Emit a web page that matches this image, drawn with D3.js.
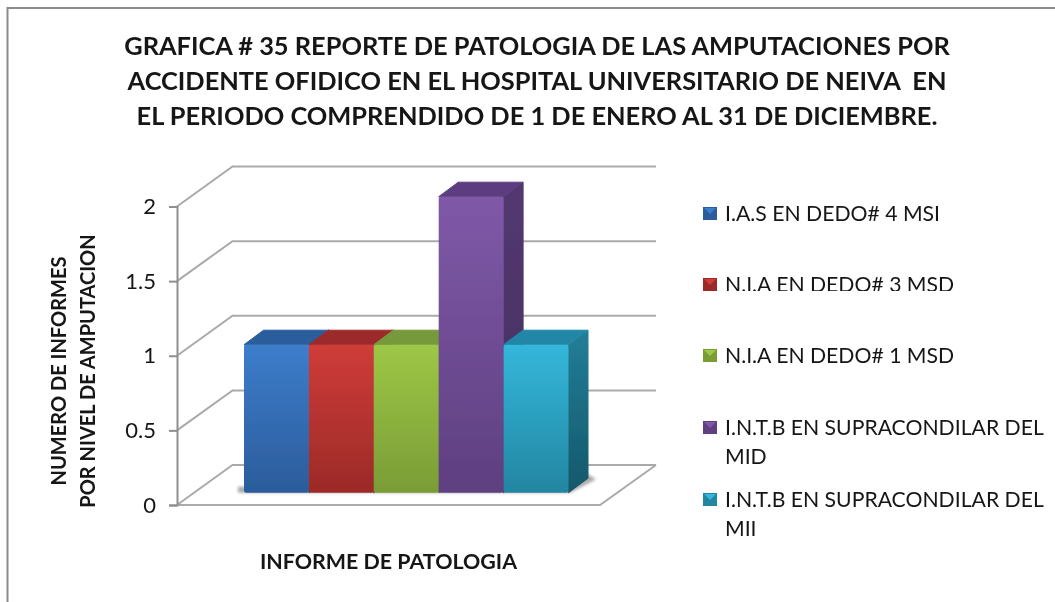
<!DOCTYPE html>
<html><head><meta charset="utf-8">
<script src="https://cdn.jsdelivr.net/npm/d3@7"></script>
<style>html,body{margin:0;padding:0;background:#fff}svg{display:block}text{font-family:Lato,Carlito,sans-serif;fill:#161616}</style>
</head><body><div id="c"></div>
<script>
const categories=["I.A.S EN DEDO# 4 MSI","N.I.A EN DEDO# 3 MSD","N.I.A EN DEDO# 1 MSD","I.N.T.B EN SUPRACONDILAR DEL MID","I.N.T.B EN SUPRACONDILAR DEL MII"];
const values=[1,1,1,2,1];
const tickValues=[0,0.5,1,1.5,2];
const frontColors=[["#3d7dcb","#2b5c9b"],["#cf3c39","#9b2a27"],["#9dc746","#7a9c36"],["#7f59a8","#5e3f80"],["#34b7da","#2386a2"]];
const topColors=["#2a5d9b","#9c2c2b","#76993a","#5d3e80","#2187a6"];
const sideColors=[["#2a5d9b","#1d406c"],["#9c2c2b","#6c1d1c"],["#76993a","#506a25"],["#533870","#45305f"],["#227e98","#14586a"]];
const titleLines=["GRAFICA # 35 REPORTE DE PATOLOGIA DE LAS AMPUTACIONES POR","ACCIDENTE OFIDICO EN EL HOSPITAL UNIVERSITARIO DE NEIVA  EN","EL PERIODO COMPRENDIDO DE 1 DE ENERO AL 31 DE DICIEMBRE."];
const yTitleLines=["NUMERO DE INFORMES","POR NIVEL DE AMPUTACION"];
const xTitle="INFORME DE PATOLOGIA";
const legendLines=[["I.A.S EN DEDO# 4 MSI"],["N.I.A EN DEDO# 3 MSD"],["N.I.A EN DEDO# 1 MSD"],["I.N.T.B EN SUPRACONDILAR DEL","MID"],["I.N.T.B EN SUPRACONDILAR DEL","MII"]];

const W=1055,H=602;
const svg=d3.select("#c").append("svg").attr("width",W).attr("height",H);
const defs=svg.append("defs");
defs.append("filter").attr("id","soft").attr("x","-5%").attr("y","-5%").attr("width","110%").attr("height","110%")
  .append("feGaussianBlur").attr("stdDeviation",0.7);
defs.append("filter").attr("id","shadow").attr("x","-20%").attr("y","-200%").attr("width","140%").attr("height","500%")
  .append("feGaussianBlur").attr("stdDeviation",1.8);
function grad(id,a,b){const g=defs.append("linearGradient").attr("id",id).attr("x1",0).attr("y1",0).attr("x2",0).attr("y2",1);
  g.append("stop").attr("offset",0).attr("stop-color",a);g.append("stop").attr("offset",1).attr("stop-color",b);}
frontColors.forEach((c,i)=>grad("f"+i,c[0],c[1]));
sideColors.forEach((c,i)=>grad("s"+i,c[0],c[1]));

const root=svg.append("g").attr("filter","url(#soft)");
root.append("path").attr("d",`M7.5,${H}V8H${W}`).attr("fill","none").attr("stroke","#8c8c8c").attr("stroke-width",2);

root.append("g").selectAll("text").data(titleLines).join("text")
  .attr("x",537).attr("y",(d,i)=>55+i*35).attr("text-anchor","middle")
  .attr("font-size",25.4).attr("font-weight",700).style("white-space","pre").text(d=>d);

const y=d3.scaleLinear().domain([0,2]).range([505,206.5]);
const yBar=d3.scaleLinear().domain([0,2]).range([492.7,196.7]);
const wallDx=55.5,wallDy=-40,floorW=423;
const x0=177;
const grid=root.append("g").attr("fill","none").attr("stroke","#aaaaaa").attr("stroke-width",2);
grid.selectAll("path.w").data(tickValues).join("path").attr("class","w")
  .attr("d",v=>`M${x0},${y(v)}L${x0+wallDx},${y(v)+wallDy}H656`);
grid.append("path").attr("d",`M${x0},${y(0)}H${x0+floorW}L656,${y(0)+wallDy}`);

const ax=root.append("g").attr("transform",`translate(${x0},0)`)
  .call(d3.axisLeft(y).tickValues(tickValues).tickSize(8).tickPadding(13).tickFormat(d3.format("~g")));
ax.selectAll("path,line").attr("stroke","#8f8f8f").attr("stroke-width",2);
ax.selectAll("text").attr("font-size",22).style("font-family","Lato,Carlito,sans-serif").attr("fill","#262626");

const bx=d3.scaleBand().domain(categories).range([244,568.5]);
const depthX=19.5,depthY=-14.5;
const base=yBar(0),xEnd=bx.range()[1];
root.append("path").attr("d",`M238,${base}H${xEnd+2}L${xEnd+depthX+8},${base+depthY+1}L${xEnd+depthX},${base+depthY-4}L${xEnd},${base-6}H238Z`)
  .attr("fill","#444").attr("opacity",.45).attr("filter","url(#shadow)");

const bars=root.append("g").selectAll("g").data(categories).join("g");
const w=bx.bandwidth();
bars.append("path").attr("fill",(d,i)=>`url(#s${i})`).attr("stroke",(d,i)=>`url(#s${i})`).attr("stroke-linejoin","round")
  .attr("d",(d,i)=>{const X=bx(d)+w,T=yBar(values[i]);return `M${X},${T}l${depthX},${depthY}V${base+depthY}L${X},${base}Z`;});
bars.append("path").attr("fill",(d,i)=>topColors[i]).attr("stroke",(d,i)=>topColors[i]).attr("stroke-linejoin","round")
  .attr("d",(d,i)=>{const X=bx(d),T=yBar(values[i]);return `M${X},${T}l${depthX},${depthY}h${w}l${-depthX},${-depthY}Z`;});
bars.append("rect").attr("fill",(d,i)=>`url(#f${i})`).attr("rx",2)
  .attr("x",d=>bx(d)).attr("width",w)
  .attr("y",(d,i)=>yBar(values[i])).attr("height",(d,i)=>base-yBar(values[i]));

root.append("g").selectAll("text").data(yTitleLines).join("text")
  .attr("transform",(d,i)=>`translate(${66+i*29},371) rotate(-90)`)
  .attr("text-anchor","middle").attr("font-size",20).attr("font-weight",700).text(d=>d);
root.append("text").attr("x",388.5).attr("y",569).attr("text-anchor","middle")
  .attr("font-size",21.4).attr("font-weight",700).text(xTitle);

const legendY=[221,292,363,435,507];
const lg=root.append("g").selectAll("g").data(legendLines).join("g");
lg.append("rect").attr("x",703).attr("y",(d,i)=>legendY[i]-14).attr("width",14).attr("height",13)
  .attr("fill",(d,i)=>frontColors[i][1]);
lg.append("path").attr("d",(d,i)=>`M704,${legendY[i]-13}h12l-6,6Z`).attr("fill",(d,i)=>frontColors[i][0]);
lg.each(function(lines,i){
  d3.select(this).selectAll("text").data(lines).join("text")
    .attr("x",725).attr("y",(d,j)=>legendY[i]+j*29).attr("font-size",21.2).text(d=>d);
});
root.append("rect").attr("x",720).attr("y",291).attr("width",250).attr("height",5).attr("fill","#fff");
</script></body></html>
